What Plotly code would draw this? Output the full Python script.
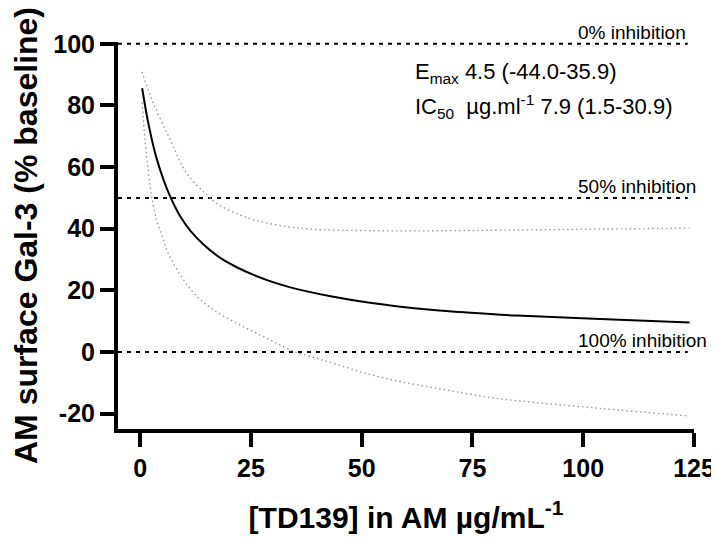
import plotly.graph_objects as go

# Fitted curve
fit_x = [0.45, 1.85, 3.6, 5.3, 6.8, 9.0, 11.3, 14.3, 18, 21.8, 25.6, 29.3, 33.1, 36.9,
         43.6, 51.1, 58.7, 66.2, 73.7, 85, 103.8, 124]
fit_y = [85.6, 74.2, 63.4, 55.8, 50.4, 44.1, 39.4, 34.9, 30.6, 27.5, 25.0, 23.0, 21.3, 19.9,
         17.9, 16.1, 14.7, 13.6, 12.8, 11.8, 10.7, 9.6]

# Upper confidence band
upper_x = [0.4, 3.0, 6.8, 10.5, 15, 18, 22.6, 25.6, 33.1, 39.1, 50, 62.4, 85.8, 105, 124]
upper_y = [90.9, 80.7, 68.8, 58.0, 51.0, 47.5, 44.5, 42.9, 40.7, 39.8, 39.4, 39.3, 39.6, 39.9, 40.2]

# Lower confidence band
lower_x = [0.4, 1.1, 1.9, 2.6, 3.8, 4.9, 6.0, 7.5, 9.8, 12.8, 16.6, 21.8, 27.1, 31, 35,
           39.9, 43.6, 51.1, 58.7, 66.2, 73.7, 81.2, 103.8, 124]
lower_y = [81.0, 68.8, 58.0, 50.4, 42.5, 38.0, 33.1, 28.8, 23.4, 18.0, 13.6, 9.3, 5.5, 2.7, 0.0,
           -2.1, -3.7, -7.0, -9.6, -11.6, -13.5, -15.2, -18.3, -20.8]

# Reference lines
ref_levels = [100, 50, 0]
ref_labels = ["0% inhibition", "50% inhibition", "100% inhibition"]
ref_x = [-5, 123.6]

x_ticks = [0, 25, 50, 75, 100, 125]
y_ticks = [-20, 0, 20, 40, 60, 80, 100]
y_tick_text = ["-20", "0", "20", "40", "60", "80", "100"]

FONT = "Arial, 'Liberation Sans', sans-serif"

fig = go.Figure()

for lvl in ref_levels:
    fig.add_trace(go.Scatter(x=ref_x, y=[lvl, lvl], mode="lines",
                             line=dict(color="black", width=2, dash="4px,5px"),
                             hoverinfo="skip", showlegend=False))

fig.add_trace(go.Scatter(x=upper_x, y=upper_y, mode="lines", line_shape="spline",
                         line=dict(color="#9a9a9a", width=1.4, dash="1.5px,3px"), showlegend=False))
fig.add_trace(go.Scatter(x=lower_x, y=lower_y, mode="lines", line_shape="spline",
                         line=dict(color="#9a9a9a", width=1.4, dash="1.5px,3px"), showlegend=False))
fig.add_trace(go.Scatter(x=fit_x, y=fit_y, mode="lines", line_shape="spline",
                         line=dict(color="black", width=2), showlegend=False))

for lvl, lab in zip(ref_levels, ref_labels):
    fig.add_annotation(x=98.3, y=lvl, xref="x", yref="y", text=lab, showarrow=False,
                       xanchor="left", yanchor="bottom", yshift=-1,
                       font=dict(family=FONT, size=19, color="black"))

fig.add_annotation(x=61.5, y=90.7, xref="x", yref="y",
                   text="E<sub>max</sub> 4.5 (-44.0-35.9)", showarrow=False,
                   xanchor="left", yanchor="middle",
                   font=dict(family=FONT, size=22, color="black"))
fig.add_annotation(x=61.5, y=79.7, xref="x", yref="y",
                   text="IC<sub>50</sub>  µg.ml<sup>-1</sup> 7.9 (1.5-30.9)", showarrow=False,
                   xanchor="left", yanchor="middle",
                   font=dict(family=FONT, size=22, color="black"))

fig.update_layout(
    width=711, height=531,
    margin=dict(l=110, r=25, t=34, b=110),
    paper_bgcolor="white", plot_bgcolor="white",
    font=dict(family=FONT, color="black"),
    xaxis=dict(range=[-5, 125], tickvals=x_ticks, showgrid=False, zeroline=False,
               automargin=False,
               showline=True, linecolor="black", linewidth=4,
               ticks="outside", ticklen=14, tickwidth=4, tickcolor="black",
               tickfont=dict(family=FONT, size=25, color="black", weight="bold"),
               title=dict(text="<b>[TD139] in AM µg/mL<sup>-1</sup></b>",
                          font=dict(family=FONT, size=30, color="black"), standoff=27)),
    yaxis=dict(range=[-25, 100.6], tickvals=y_ticks, ticktext=y_tick_text,
               showgrid=False, zeroline=False, automargin=False,
               showline=True, linecolor="black", linewidth=4,
               ticks="outside", ticklen=14, tickwidth=4, tickcolor="black",
               tickfont=dict(family=FONT, size=25, color="black", weight="bold"),
               title=dict(text="<b>AM surface Gal-3 (% baseline)</b>",
                          font=dict(family=FONT, size=32, color="black"), standoff=10)),
)

fig.write_html("out.html")
